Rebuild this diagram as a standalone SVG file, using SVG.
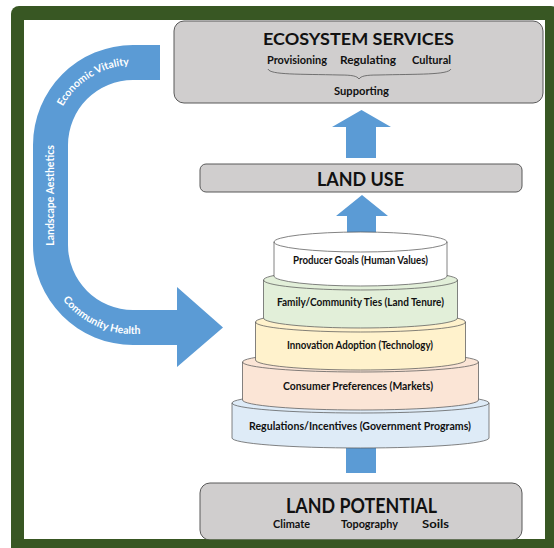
<svg xmlns="http://www.w3.org/2000/svg" width="554" height="548" viewBox="0 0 554 548">
<style>
  .box { fill: #d0cece; stroke: #595959; stroke-width: 1; }
  .blue { fill: #5b9bd5; }
  .layer { stroke: #595959; stroke-width: 0.75; }
  .rim { fill: none; stroke: #595959; stroke-width: 0.75; }
  .t { font-family: Lato, "Open Sans", "Liberation Sans", sans-serif; fill: #111; font-weight: bold; text-anchor: middle; }
  .lbl { font-family: Lato, "Open Sans", "Liberation Sans", sans-serif; fill: #ffffff; font-size: 10.5px; font-weight: bold; }
</style>
<defs>
  <path id="pEco" d="M53,145 A80,80 0 0 1 133,65 L170,65"/>
  <path id="pCom" d="M44,245 A89,89 0 0 0 133,334 L200,334"/>
</defs>

<!-- frame -->
<rect x="11" y="6" width="548" height="550" rx="8" fill="#385723"/>
<rect x="24" y="20" width="521" height="519" fill="#ffffff"/>

<!-- connectors -->
<g id="connectors">
  <path class="blue" d="M160,45 L133,45 A100,100 0 0 0 33,145 L33,245 A100,100 0 0 0 133,345 L177,345 L177,367 L223,327.5 L177,287 L177,310 L133,310 A65,65 0 0 1 68,245 L68,145 A65,65 0 0 1 133,80 L160,80 Z"/>
  <text class="lbl"><textPath href="#pEco" startOffset="40">Economic Vitality</textPath></text>
  <text class="lbl" text-anchor="middle" transform="translate(54,195.5) rotate(-90)">Landscape Aesthetics</text>
  <text class="lbl"><textPath href="#pCom" startOffset="59">Community Health</textPath></text>
  <polygon class="blue" points="346,158 346,127 332,127 361.5,110 391,127 376,127 376,158"/>
  <polygon class="blue" points="347,240 347,216 336,216 362,195 388,216 376,216 376,240"/>
  <rect class="blue" x="346" y="430" width="30" height="43"/>
</g>

<!-- Ecosystem services -->
<g id="ecosystem-services">
  <rect class="box" x="174" y="21" width="369" height="82" rx="10"/>
  <text class="t" x="358.5" y="45" font-size="17" textLength="191" lengthAdjust="spacingAndGlyphs">ECOSYSTEM SERVICES</text>
  <text class="t" x="297" y="64" font-size="11" textLength="60" lengthAdjust="spacingAndGlyphs">Provisioning</text>
  <text class="t" x="368" y="64" font-size="11" textLength="56" lengthAdjust="spacingAndGlyphs">Regulating</text>
  <text class="t" x="431.5" y="64" font-size="11" textLength="39" lengthAdjust="spacingAndGlyphs">Cultural</text>
  <path d="M268,69 C270,75 300,74 340,75 C352,75 357,76 359,79 C361,76 366,75 378,75 C418,74 448,75 451,69" fill="none" stroke="#595959" stroke-width="0.8"/>
  <text class="t" x="361.5" y="95" font-size="11" textLength="55" lengthAdjust="spacingAndGlyphs">Supporting</text>
</g>

<!-- Land use -->
<g id="land-use">
  <rect class="box" x="200" y="164" width="322" height="28" rx="6"/>
  <text class="t" x="360.5" y="186" font-size="18" textLength="87" lengthAdjust="spacingAndGlyphs">LAND USE</text>
</g>

<!-- Cake layers -->
<g id="layer-regulations">
  <path class="layer" fill="#deebf7" d="M232,403 A128.5,10 0 0 1 489,403 L489,438 A128.5,10 0 0 1 232,438 Z"/>
  <path class="rim" d="M232,403 A128.5,10 0 0 0 489,403"/>
  <text class="t" x="360" y="430" font-size="10.5" textLength="222" lengthAdjust="spacingAndGlyphs">Regulations/Incentives (Government Programs)</text>
</g>
<g id="layer-consumer">
  <path class="layer" fill="#fbe5d6" d="M242.5,362 A118,10 0 0 1 478.5,362 L478.5,400 A118,10 0 0 1 242.5,400 Z"/>
  <path class="rim" d="M242.5,362 A118,10 0 0 0 478.5,362"/>
  <text class="t" x="358" y="390" font-size="10.5" textLength="150" lengthAdjust="spacingAndGlyphs">Consumer Preferences (Markets)</text>
</g>
<g id="layer-innovation">
  <path class="layer" fill="#fff2cc" d="M255.5,322 A105,10 0 0 1 465.5,322 L465.5,360 A105,10 0 0 1 255.5,360 Z"/>
  <path class="rim" d="M255.5,322 A105,10 0 0 0 465.5,322"/>
  <text class="t" x="360" y="349" font-size="10.5" textLength="146" lengthAdjust="spacingAndGlyphs">Innovation Adoption (Technology)</text>
</g>
<g id="layer-family">
  <path class="layer" fill="#e2efd9" d="M263.5,280 A97,10 0 0 1 457.5,280 L457.5,318 A97,10 0 0 1 263.5,318 Z"/>
  <path class="rim" d="M263.5,280 A97,10 0 0 0 457.5,280"/>
  <text class="t" x="360.5" y="306" font-size="10.5" textLength="167" lengthAdjust="spacingAndGlyphs">Family/Community Ties (Land Tenure)</text>
</g>
<g id="layer-producer">
  <path class="layer" fill="#ffffff" d="M274,242 A86.5,10 0 0 1 447,242 L447,276 A86.5,10 0 0 1 274,276 Z"/>
  <path class="rim" d="M274,242 A86.5,10 0 0 0 447,242"/>
  <text class="t" x="360.5" y="264" font-size="10.5" textLength="135" lengthAdjust="spacingAndGlyphs">Producer Goals (Human Values)</text>
</g>

<!-- Land potential -->
<g id="land-potential">
  <rect class="box" x="200" y="483" width="322" height="57" rx="10"/>
  <text class="t" x="361.5" y="513" font-size="20" textLength="151" lengthAdjust="spacingAndGlyphs">LAND POTENTIAL</text>
  <text class="t" x="291.5" y="528" font-size="11" textLength="37" lengthAdjust="spacingAndGlyphs">Climate</text>
  <text class="t" x="369.5" y="528" font-size="11" textLength="57" lengthAdjust="spacingAndGlyphs">Topography</text>
  <text class="t" x="435.5" y="528" font-size="11" textLength="27" lengthAdjust="spacingAndGlyphs">Soils</text>
</g>
<rect x="11" y="539.5" width="548" height="10" fill="#385723"/>
</svg>
